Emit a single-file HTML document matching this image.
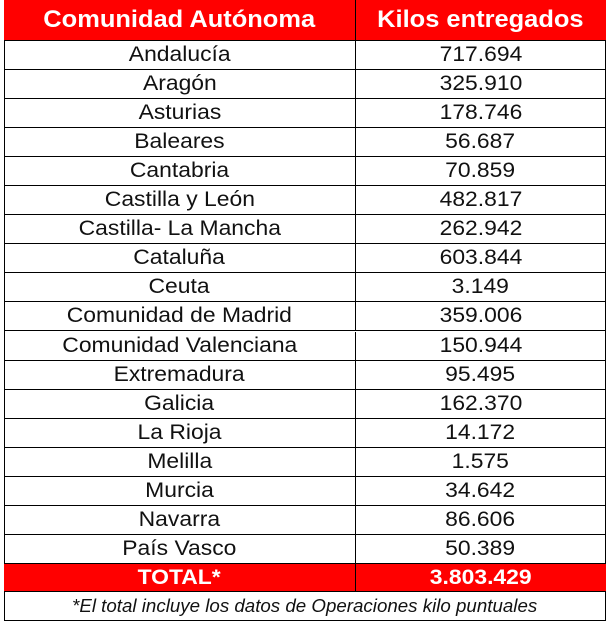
<!DOCTYPE html>
<html><head><meta charset="utf-8"><style>
body{margin:0;background:#fff;width:611px;height:624px;position:relative;font-family:"Liberation Sans",Arial,sans-serif;overflow:hidden}
.r{position:absolute;left:4px;width:602px;height:29px;border-bottom:1px solid #000;box-sizing:border-box}
.c{position:absolute;top:0;height:100%;display:flex;align-items:center;justify-content:center;font-size:21px;color:#111}
.c span{display:inline-block;transform:scaleX(1.09)}
.a{left:0;width:351px;border-right:1px solid #000}
.b{left:351px;width:251px}
.red{background:#f00}
.red .c{color:#fff;font-weight:bold}
</style></head><body>
<div style="position:absolute;left:4px;top:0;width:602px;height:621px;border-left:1px solid #000;border-right:1px solid #000;box-sizing:border-box"></div>
<div class="r red" style="top:0;height:41px"><div class="c a" style="font-size:24px"><span style="transform:scaleX(1.06)">Comunidad Autónoma</span></div><div class="c b" style="font-size:24px"><span style="transform:scaleX(1.06)">Kilos entregados</span></div></div>
<div id="rows"></div>
<script>
var d=[["Andalucía","717.694"],["Aragón","325.910"],["Asturias","178.746"],["Baleares","56.687"],["Cantabria","70.859"],["Castilla y León","482.817"],["Castilla- La Mancha","262.942"],["Cataluña","603.844"],["Ceuta","3.149"],["Comunidad de Madrid","359.006"],["Comunidad Valenciana","150.944"],["Extremadura","95.495"],["Galicia","162.370"],["La Rioja","14.172"],["Melilla","1.575"],["Murcia","34.642"],["Navarra","86.606"],["País Vasco","50.389"]];
var h="";d.forEach(function(x,i){var t=41+i*29.05;h+='<div class="r" style="top:'+t+'px;height:'+(29.05)+'px"><div class="c a"><span>'+x[0]+'</span></div><div class="c b"><span>'+x[1]+'</span></div></div>';});
document.getElementById("rows").innerHTML=h;
</script>
<div class="r red" style="top:564px;height:28px"><div class="c a"><span>TOTAL*</span></div><div class="c b"><span>3.803.429</span></div></div>
<div class="r" style="top:592px;height:29px"><div class="c" style="left:0;width:602px;font-style:italic;font-size:18px"><span style="transform:scaleX(1.04)">*El total incluye los datos de Operaciones kilo puntuales</span></div></div>
</body></html>
